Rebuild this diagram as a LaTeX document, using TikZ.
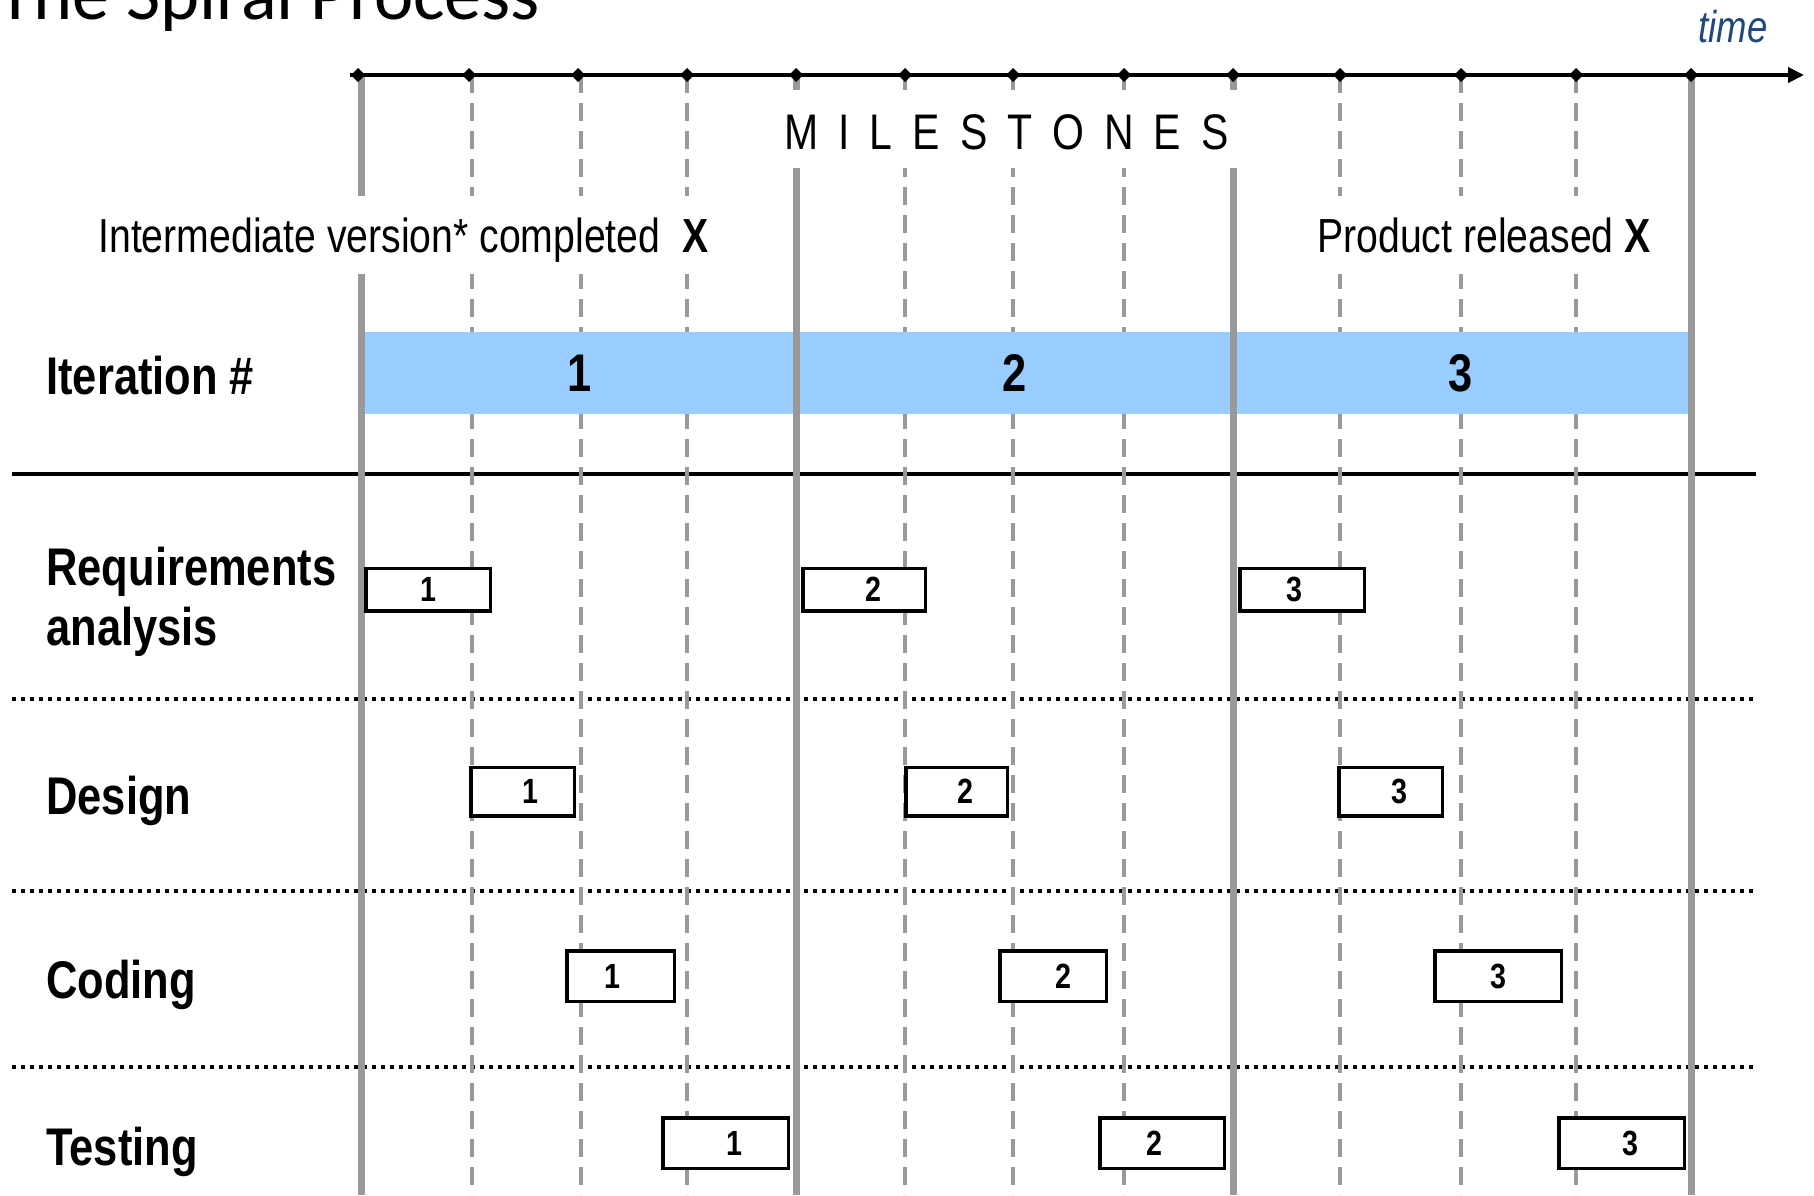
\documentclass[tikz,border=0pt]{standalone}
\usepackage{fontspec}
\newfontfamily\narrowfont[FakeStretch=0.82]{Liberation Sans}
\newfontfamily\titlefont{Carlito}
\usetikzlibrary{arrows.meta}
\definecolor{gridgray}{HTML}{999999}
\definecolor{bandblue}{HTML}{99CCFF}
\definecolor{timeblue}{HTML}{1F497D}

\begin{document}
\begin{tikzpicture}[x=0.5pt,y=-0.5pt,
  phase/.style={font=\narrowfont\bfseries\fontsize{26.5}{30}\selectfont,
                anchor=base west, inner sep=0pt, align=left},
  itercell/.style={fill=bandblue, inner sep=0pt, minimum height=41pt,
                   text depth=-3.5pt,
                   font=\narrowfont\bfseries\fontsize{26.5}{30}\selectfont},
  stepnum/.style={draw=black, line width=1.75pt, fill=white, inner sep=0pt,
                  font=\narrowfont\bfseries\fontsize{17.5}{20}\selectfont},
  nudge/.style={execute at begin node={\hspace*{#1}}},
  banner/.style={fill=white, anchor=base west, inner ysep=0pt,
                 font=\narrowfont\fontsize{23.9}{27}\selectfont},
  milestone/.style={gridgray, line width=3.5pt},
  substep/.style={gridgray, line width=2pt, dash pattern=on 9pt off 5pt},
  rowsep/.style={line width=2pt, dash pattern=on 2pt off 2.5pt},
  msmark/.style={fill=black}
]
\useasboundingbox (0,0) rectangle (1814,1195);

% row separators
\coordinate (hl) at (12,474);   \coordinate (hr) at (1756,474);
\draw[line width=1.75pt] (hl) -- (hr);
\foreach \yy in {699,891,1067}
  \draw[rowsep] (12,\yy) -- (1754,\yy);

% intermediate (dashed) time marks
\foreach \xx in {472,581,687,905,1013,1124,1340,1461,1576}
  \draw[substep] (\xx,75) -- (\xx,1195);

% iteration band
\node[itercell, minimum width=216pt]   (it1) at (580,373)    {1};
\node[itercell, minimum width=218.5pt] (it2) at (1014.5,373) {2};
\node[itercell, minimum width=227.5pt] (it3) at (1460.5,373) {3};

% milestone (solid) time marks
\foreach \xx in {361,796,1233,1691}
  \draw[milestone] (\xx,75) -- (\xx,1195);

% time axis
\coordinate (axL) at (350,75);
\coordinate (axR) at (1804,75);
\draw[line width=2pt, -{Triangle[length=8pt,width=7.5pt]}] (axL) -- (axR);
\foreach \xx in {358,469,578,687,796,905,1013,1124,1233,1340,1461,1576,1691}
  \fill[msmark] ({\xx-7},75) -- (\xx,68) -- ({\xx+7},75) -- (\xx,82) -- cycle;
\node[anchor=base west, inner sep=0pt, text=timeblue,
      font=\narrowfont\itshape\fontsize{22.3}{25}\selectfont] (timelbl) at (1698,42) {time};

% milestone captions
\node[banner, inner xsep=6pt, text height=29.5pt, text depth=9.5pt,
      font=\narrowfont\fontsize{25}{28}\selectfont] (ms) at (772,149)
  {M\kern10pt I\kern10pt L\kern10pt E\kern10pt S\kern10pt T\kern10pt O\kern10pt N\kern10pt E\kern10pt S};
\node[banner, inner xsep=4pt, text height=28pt, text depth=11pt] (interm) at (90,252)
  {Intermediate version* completed\ \ \textbf{X}};
\node[banner, inner xsep=4pt, text height=28pt, text depth=11pt] (release) at (1309,252)
  {Product released \textbf{X}};

% row labels
\node[phase] (lbliter) at (46,394) {Iteration \#};
\node[phase] (lblreq)  at (46,645) {Requirements\\analysis};
\node[phase] (lbldes)  at (46,814) {Design};
\node[phase] (lblcod)  at (46,998) {Coding};
\node[phase] (lbltst)  at (46,1165) {Testing};

% activity boxes
\node[stepnum, minimum width=62.25pt, minimum height=21.25pt] (req1) at (428,589.5)  {1};
\node[stepnum, nudge=9pt, minimum width=61.25pt, minimum height=21.25pt] (req2) at (864,589.5)  {2};
\node[stepnum, nudge=-8pt, minimum width=62.25pt, minimum height=21.25pt] (req3) at (1302,589.5) {3};

\node[stepnum, nudge=8pt, minimum width=51.75pt, minimum height=24.25pt] (des1) at (522.5,791.5)  {1};
\node[stepnum, nudge=9pt, minimum width=50.75pt, minimum height=24.25pt] (des2) at (956.5,791.5)  {2};
\node[stepnum, nudge=9pt, minimum width=51.75pt, minimum height=24.25pt] (des3) at (1390.5,791.5) {3};

\node[stepnum, nudge=-8pt, minimum width=53.75pt, minimum height=25.25pt] (cod1) at (620.5,976) {1};
\node[stepnum, nudge=10pt, minimum width=53.25pt, minimum height=25.25pt] (cod2) at (1053,976)  {2};
\node[stepnum, minimum width=63.25pt, minimum height=25.25pt] (cod3) at (1498,976)  {3};

\node[stepnum, nudge=9pt, minimum width=62.75pt, minimum height=25.25pt] (tst1) at (725.5,1143)  {1};
\node[stepnum, nudge=-8pt, minimum width=62.25pt, minimum height=25.25pt] (tst2) at (1162,1143)   {2};
\node[stepnum, nudge=9pt, minimum width=62.75pt, minimum height=25.25pt] (tst3) at (1621.5,1143) {3};

% title
\node[anchor=base west, inner sep=0pt, font=\titlefont\fontsize{37.2}{41}\selectfont]
  (title) at (-3,19) {The Spiral Process};
\end{tikzpicture}
\end{document}
